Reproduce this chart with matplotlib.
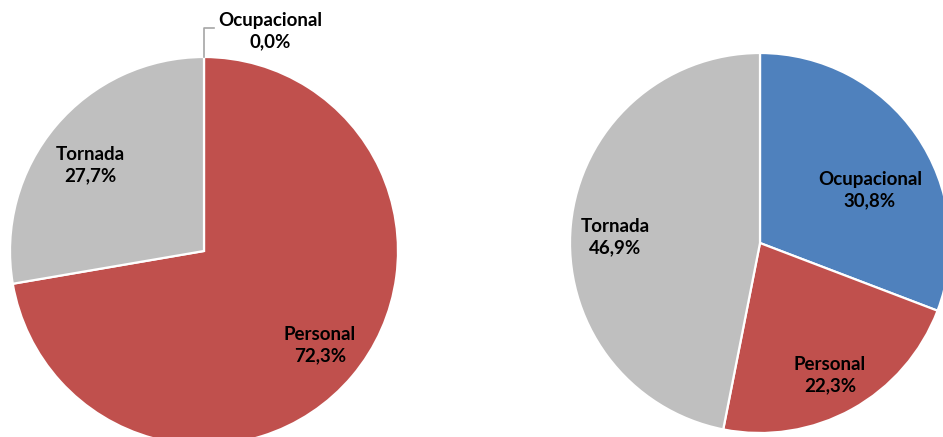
import matplotlib.pyplot as plt

categories = ["Ocupacional", "Personal", "Tornada"]
left_values = [0.0, 72.3, 27.7]
right_values = [30.8, 22.3, 46.9]
colors = ["#4F81BD", "#C0504D", "#BFBFBF"]

W, H = 943, 437

fig = plt.figure(figsize=(W / 100, H / 100), dpi=100)


def py(y):
    # pixel row -> data y
    return H - y


def draw_pie(x0, x1, values, center, radius, label_pos):
    # one axes per pie, in pixel units, so the pie is clipped at its plot area
    ax = fig.add_axes([x0 / W, 0, (x1 - x0) / W, 1])
    ax.pie(
        values,
        colors=colors,
        center=center,
        radius=radius,
        startangle=90,
        counterclock=False,
        wedgeprops=dict(edgecolor="white", linewidth=1.6),
    )
    for cat, val, (x, y) in zip(categories, values, label_pos):
        ax.text(x, py(y), f"{cat}\n{val:.1f}%".replace(".", ","),
                ha="center", va="center", fontsize=13.5, fontweight="bold",
                family="Lato", linespacing=1.3, clip_on=False)
    ax.set_xlim(x0, x1)
    ax.set_ylim(0, H)
    ax.set_aspect("equal")
    ax.axis("off")
    return ax


ax_l = draw_pie(0, 393, left_values, (204, py(251)), 194,
                [(270, 31), (320, 345), (90, 165)])
draw_pie(420, W, right_values, (760, py(243)), 190,
         [(870, 190), (830, 375), (615, 237)])

# leader line for the zero slice
ax_l.plot([204, 204, 214], [py(57), py(28), py(28)], color="#A6A6A6", lw=1.2,
          clip_on=False)

fig.savefig("out.png", dpi=100)
